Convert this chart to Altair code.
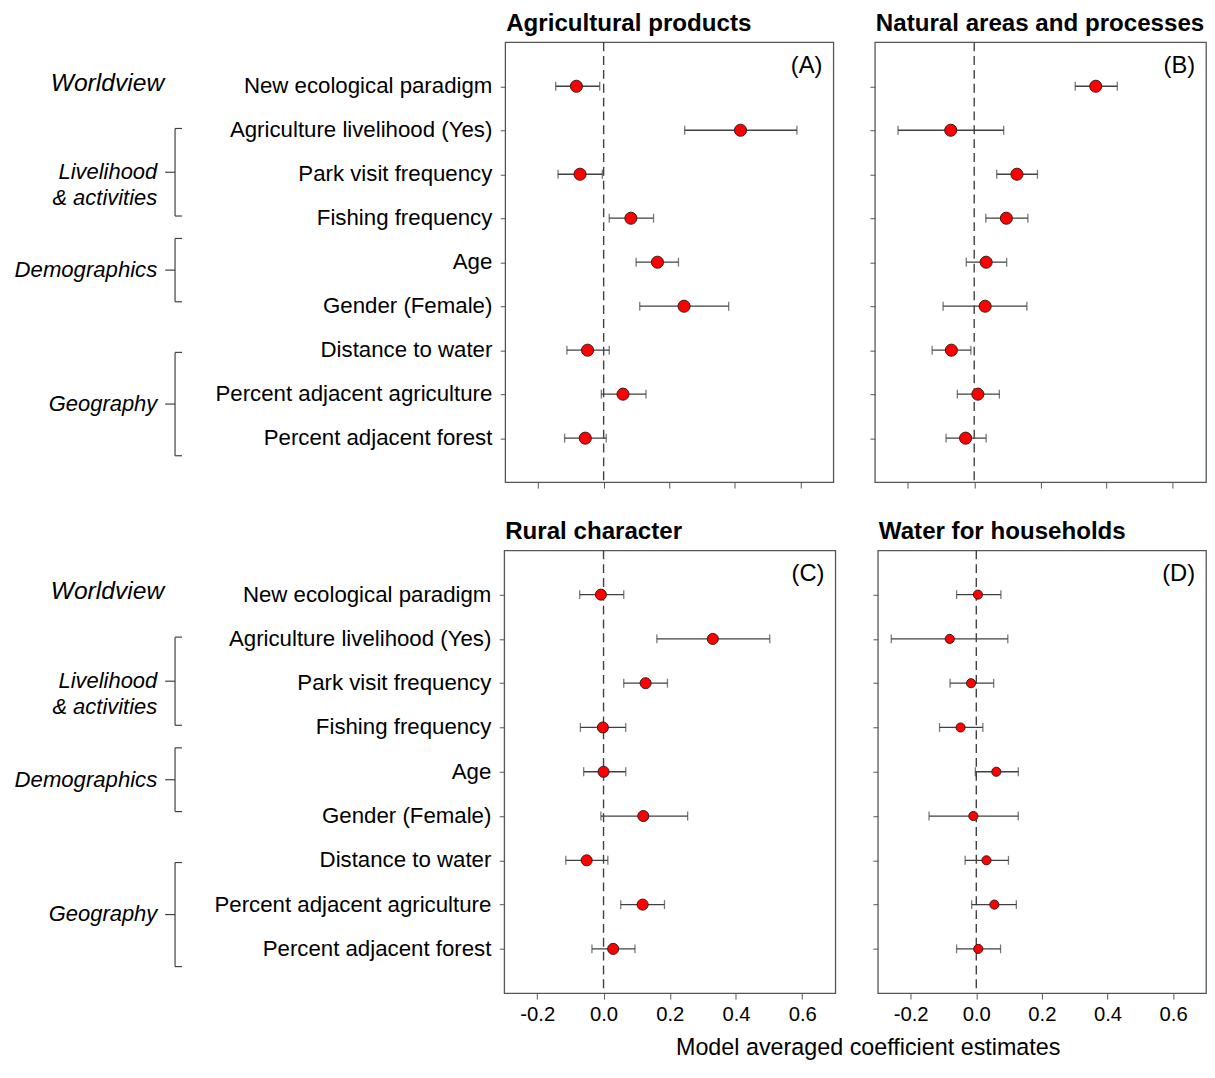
import altair as alt
import pandas as pd

FONT = "Liberation Sans"

variables = [
    "New ecological paradigm",
    "Agriculture livelihood (Yes)",
    "Park visit frequency",
    "Fishing frequency",
    "Age",
    "Gender (Female)",
    "Distance to water",
    "Percent adjacent agriculture",
    "Percent adjacent forest",
]
rows = [1, 2, 3, 4, 5, 6, 7, 8, 9]

panel_titles = ["Agricultural products", "Natural areas and processes",
                "Rural character", "Water for households"]
panel_letters = ["(A)", "(B)", "(C)", "(D)"]

# (A) Agricultural products
est_A = [-0.083, 0.417, -0.072, 0.083, 0.164, 0.245, -0.049, 0.059, -0.056]
low_A = [-0.146, 0.247, -0.139, 0.017, 0.099, 0.110, -0.112, -0.007, -0.119]
high_A = [-0.012, 0.589, -0.004, 0.152, 0.228, 0.381, 0.017, 0.129, 0.008]

# (B) Natural areas and processes
est_B = [0.367, -0.071, 0.129, 0.097, 0.036, 0.033, -0.069, 0.011, -0.026]
low_B = [0.305, -0.230, 0.068, 0.035, -0.024, -0.094, -0.127, -0.051, -0.085]
high_B = [0.432, 0.089, 0.191, 0.162, 0.098, 0.159, -0.010, 0.076, 0.036]

# (C) Rural character
est_C = [-0.008, 0.330, 0.127, -0.002, 0.000, 0.120, -0.051, 0.118, 0.029]
low_C = [-0.072, 0.161, 0.061, -0.070, -0.060, -0.008, -0.114, 0.052, -0.035]
high_C = [0.061, 0.502, 0.193, 0.067, 0.067, 0.254, 0.013, 0.184, 0.095]

# (D) Water for households
est_D = [0.005, -0.081, -0.016, -0.048, 0.061, -0.009, 0.031, 0.055, 0.006]
low_D = [-0.060, -0.259, -0.080, -0.112, -0.003, -0.144, -0.034, -0.014, -0.060]
high_D = [0.075, 0.096, 0.053, 0.020, 0.128, 0.128, 0.098, 0.122, 0.074]

# Variable groups (row positions on the shared y scale)
group_names = ["Worldview", "Livelihood\n& activities", "Demographics", "Geography"]
group_start = [0.95, 1.96, 4.46, 7.05]
group_end = [0.95, 3.95, 5.90, 9.40]
group_brace = [False, True, True, True]

x_ticks = [-0.2, 0.0, 0.2, 0.4, 0.6]

FRAME = "#555555"
INK = "#404040"
TITLE_SIZE = 24.4


def y_scale():
    return alt.Scale(domain=[0, 10], reverse=True, nice=False, zero=False)


def label_chart(width, height):
    var_df = pd.DataFrame({"row": rows, "label": variables})
    grp_df = pd.DataFrame({
        "name": group_names,
        "start": group_start,
        "end": group_end,
        "brace": group_brace,
    })
    grp_df["mid"] = (grp_df["start"] + grp_df["end"]) / 2
    grp_df["gx"] = [153, 146, 146, 146]
    grp_df["fs"] = [24.9, 22.2, 22.4, 22.2]
    br_df = grp_df[grp_df["brace"]]

    var_text = alt.Chart(var_df).mark_text(
        align="right", baseline="middle", fontSize=22.5, font=FONT, color="black"
    ).encode(
        x=alt.value(width),
        y=alt.Y("row:Q", scale=y_scale(), axis=None),
        text="label:N",
    )
    grp_text = alt.Chart(grp_df).mark_text(
        align="right", baseline="middle", font=FONT,
        fontStyle="italic", color="black", lineBreak="\n", lineHeight=26
    ).encode(
        x=alt.X("gx:Q", scale=None),
        y=alt.Y("mid:Q", scale=y_scale(), axis=None),
        size=alt.Size("fs:Q", scale=None, legend=None),
        text="name:N",
    )
    vert = alt.Chart(br_df).mark_rule(color=INK, strokeWidth=1.2).encode(
        x=alt.value(164), y=alt.Y("start:Q", scale=y_scale(), axis=None), y2="end:Q"
    )
    top_hook = alt.Chart(br_df).mark_rule(color=INK, strokeWidth=1.2).encode(
        x=alt.value(164), x2=alt.value(171),
        y=alt.Y("start:Q", scale=y_scale(), axis=None)
    )
    bot_hook = alt.Chart(br_df).mark_rule(color=INK, strokeWidth=1.2).encode(
        x=alt.value(164), x2=alt.value(171),
        y=alt.Y("end:Q", scale=y_scale(), axis=None)
    )
    mid_tick = alt.Chart(br_df).mark_rule(color=INK, strokeWidth=1.2).encode(
        x=alt.value(154), x2=alt.value(164),
        y=alt.Y("mid:Q", scale=y_scale(), axis=None)
    )
    return alt.layer(var_text, grp_text, vert, top_hook, bot_hook, mid_tick).properties(
        width=width, height=height,
        title=alt.TitleParams(" ", anchor="start", fontSize=TITLE_SIZE,
                              fontWeight="bold", font=FONT, offset=5.5),
        view=alt.ViewBackground(stroke="transparent"),
    )


def panel(est, low, high, title, letter, size, show_labels, width, height):
    df = pd.DataFrame({"row": rows, "est": est, "low": low, "high": high})
    xs = alt.Scale(domain=[-0.3, 0.7], nice=False, zero=False)
    xaxis = alt.Axis(
        values=x_ticks, labels=show_labels, tickSize=6, domain=False, grid=False,
        title=None, labelFontSize=20.5, labelPadding=6, labelColor="black",
        tickColor=FRAME, labelFont=FONT,
        labelExpr="replace(format(datum.value, '.1f'), '\u2212', '-')",
    )
    yaxis = alt.Axis(values=rows, labels=False, tickSize=5, domain=False,
                     grid=False, title=None, tickColor=FRAME)

    zero = alt.Chart(pd.DataFrame({"z": [0.0]})).mark_rule(
        strokeDash=[9, 5], color=INK, strokeWidth=1.4
    ).encode(x=alt.X("z:Q", scale=xs, axis=xaxis))

    bars = alt.Chart(df).mark_rule(color=INK, strokeWidth=1.3).encode(
        x=alt.X("low:Q", scale=xs, axis=xaxis),
        x2="high:Q",
        y=alt.Y("row:Q", scale=y_scale(), axis=yaxis),
    )
    cap_lo = alt.Chart(df).mark_tick(orient="vertical", size=9, thickness=1.3,
                                     color=INK).encode(
        x=alt.X("low:Q", scale=xs, axis=xaxis),
        y=alt.Y("row:Q", scale=y_scale(), axis=yaxis),
    )
    cap_hi = alt.Chart(df).mark_tick(orient="vertical", size=9, thickness=1.3,
                                     color=INK).encode(
        x=alt.X("high:Q", scale=xs, axis=xaxis),
        y=alt.Y("row:Q", scale=y_scale(), axis=yaxis),
    )
    pts = alt.Chart(df).mark_circle(size=size, color="#FF0000", stroke="#3a1a1a",
                                    strokeWidth=1, opacity=1).encode(
        x=alt.X("est:Q", scale=xs, axis=xaxis),
        y=alt.Y("row:Q", scale=y_scale(), axis=yaxis),
    )
    lab = alt.Chart(pd.DataFrame({"t": [letter]})).mark_text(
        align="right", baseline="middle", dx=-11, dy=24, fontSize=24, font=FONT,
        color="black"
    ).encode(
        x=alt.datum(0.7), y=alt.datum(0), text="t:N"
    )
    return alt.layer(zero, bars, cap_lo, cap_hi, pts, lab).properties(
        width=width, height=height,
        title=alt.TitleParams(title, anchor="start", frame="group", dx=1,
                              fontSize=TITLE_SIZE, fontWeight="bold", font=FONT,
                              offset=5.5, color="black"),
    )


pA = panel(est_A, low_A, high_A, panel_titles[0], panel_letters[0], 150, False, 332, 445)
pB = panel(est_B, low_B, high_B, panel_titles[1], panel_letters[1], 150, False, 335, 445)
pC = panel(est_C, low_C, high_C, panel_titles[2], panel_letters[2], 125, True, 335, 448)
pD = panel(est_D, low_D, high_D, panel_titles[3], panel_letters[3], 85, True, 332, 448)

top_row = alt.hconcat(
    label_chart(485, 445),
    alt.hconcat(pA, pB, spacing=34),
    spacing=5,
)
bottom_pair = alt.hconcat(pC, pD, spacing=35).properties(
    title=alt.TitleParams("Model averaged coefficient estimates", orient="bottom",
                          anchor="middle", fontSize=23.6, fontWeight="normal",
                          font=FONT, offset=10, dx=16, color="black")
)
bottom_row = alt.hconcat(
    label_chart(484, 448),
    bottom_pair,
    spacing=5,
)

chart = alt.vconcat(top_row, bottom_row, spacing=28).configure(
    font=FONT, padding={"left": 4, "top": -4.5, "right": 0, "bottom": 0}
).configure_view(stroke=FRAME, strokeWidth=1.3)

chart.save("out.html", embed_options={"renderer": "svg", "actions": False})
